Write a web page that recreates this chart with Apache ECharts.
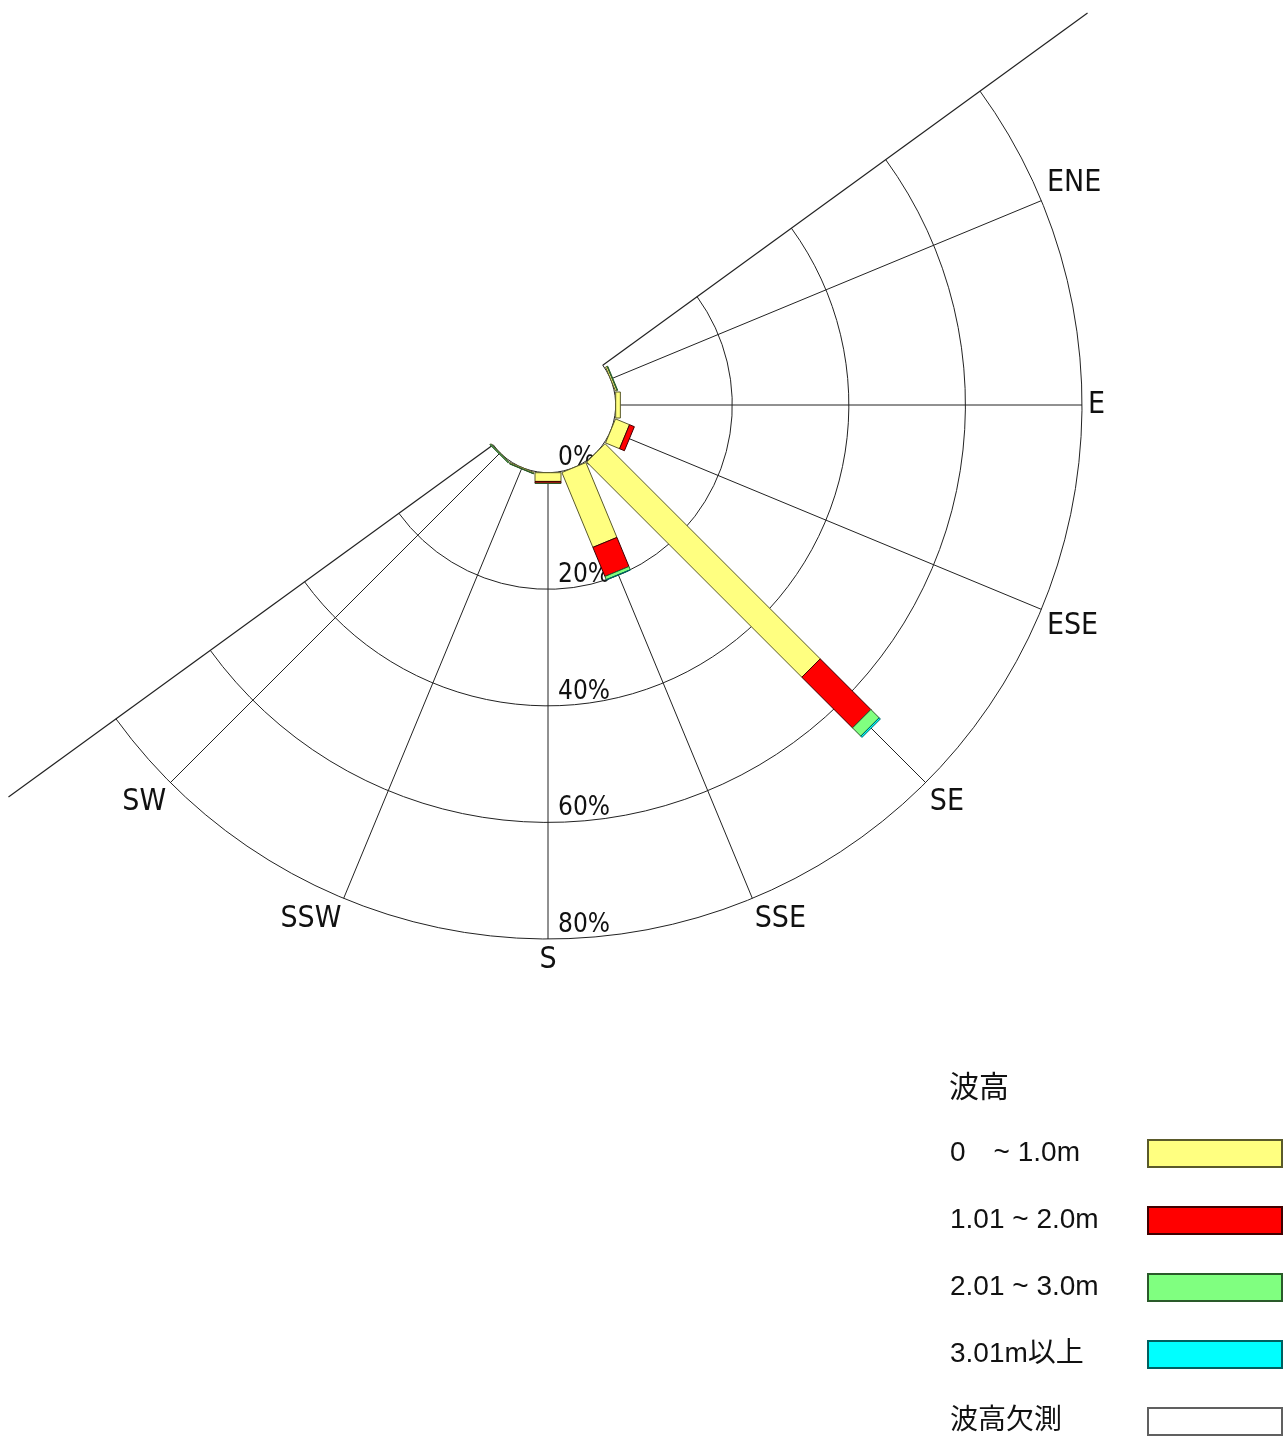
<!DOCTYPE html>
<html><head><meta charset="utf-8">
<script src="https://cdn.jsdelivr.net/npm/echarts@6/dist/echarts.min.js"></script>
<style>html,body{margin:0;padding:0;background:#fff}#c{width:1285px;height:1439px}</style>
</head><body><div id="c"></div>
<script>
// ---- data ----
const directions = ['ENE', 'E', 'ESE', 'SE', 'SSE', 'S', 'SSW', 'SW'];
const bearings = [67.5, 90, 112.5, 135, 157.5, 180, 202.5, 225];
const classNames = ['0\u3000~ 1.0m', '1.01 ~ 2.0m', '2.01 ~ 3.0m', '3.01m以上', '波高欠測'];
const wave0to1 = [0.3, 0.8, 2.6, 52.2, 13.9, 1.5, 0.2, 0.1];
const wave1to2 = [0.0, 0.0, 0.9, 12.3, 5.4, 0.3, 0.0, 0.0];
const wave2to3 = [0.1, 0.0, 0.0, 2.0, 0.6, 0.05, 0.05, 0.15];
const wave3up  = [0.0, 0.0, 0.0, 0.3, 0.05, 0.0, 0.0, 0.0];
const waveMissing = [0, 0, 0, 0, 0, 0, 0, 0];
const radiusTicks = [0, 20, 40, 60, 80];
const coastBearings = [54, 234];
const coastExtent = 102.8;

// ---- styling ----
const classValues = [wave0to1, wave1to2, wave2to3, wave3up, waveMissing];
const fills = ['#FFFF80', '#FF0000', '#80FF80', '#00FFFF', '#FFFFFF'];
const borders = ['#5a5a2a', '#400000', '#2a5a2a', '#006060', '#606060'];
const BAR_HALF = 13;
const CHART_FONT = "'DejaVu Sans Condensed', 'Liberation Sans Narrow', 'Liberation Sans', sans-serif";
const LEG_FONT = "'Liberation Sans', Arial, 'Noto Sans CJK JP', sans-serif";

const chart = echarts.init(document.getElementById('c'), null, {renderer: 'canvas'});

function barRender(params, api) {
  const b = api.value(0), s = api.value(1), e = api.value(2);
  if (!(e - s > 0)) return null;
  const p1 = api.coord([s, b]), p2 = api.coord([e, b]);
  const c0 = api.coord([0, b]), c1 = api.coord([80, b]);
  let dx = c1[0] - c0[0], dy = c1[1] - c0[1];
  const L = Math.hypot(dx, dy); dx /= L; dy /= L;
  const nx = -dy * BAR_HALF, ny = dx * BAR_HALF;
  return {
    type: 'polygon',
    shape: {points: [[p1[0] + nx, p1[1] + ny], [p2[0] + nx, p2[1] + ny], [p2[0] - nx, p2[1] - ny], [p1[0] - nx, p1[1] - ny]]},
    style: api.style({lineWidth: 1})
  };
}

const series = classNames.map((name, i) => ({
  name: name,
  type: 'custom',
  coordinateSystem: 'polar',
  polarIndex: 0,
  itemStyle: {color: fills[i], borderColor: borders[i], borderWidth: 1},
  encode: {angle: 0, radius: [1, 2]},
  renderItem: barRender,
  z: 5,
  data: directions.map((d, j) => {
    let start = 0;
    for (let k = 0; k < i; k++) start += classValues[k][j];
    return [bearings[j], start, start + classValues[i][j]];
  })
}));

series.push({
  name: 'coast',
  type: 'custom',
  coordinateSystem: 'polar',
  polarIndex: 0,
  silent: true,
  z: 4,
  encode: {angle: 0, radius: 1},
  data: coastBearings.map(b => [b, coastExtent]),
  renderItem: function (params, api) {
    const b = api.value(0);
    const a = api.coord([0, b]), z = api.coord([api.value(1), b]);
    return {type: 'line', shape: {x1: a[0], y1: a[1], x2: z[0], y2: z[1]},
      style: {stroke: '#222', lineWidth: 1.2}};
  }
});

const option = {
  backgroundColor: '#fff',
  animation: false,
  title: {
    text: '波高', left: 949, top: 1074, padding: 0,
    textStyle: {fontFamily: LEG_FONT, fontSize: 30, fontWeight: 'normal', color: '#111'}
  },
  legend: {
    data: classNames,
    orient: 'vertical',
    left: 950, top: 1139, padding: 0,
    align: 'right',
    itemWidth: 134, itemHeight: 27, itemGap: 38,
    selectedMode: false,
    icon: 'rect',
    formatter: '{t|{name}}',
    textStyle: {
      fontFamily: LEG_FONT, fontSize: 28, color: '#111',
      rich: {t: {width: 193, align: 'left', fontFamily: LEG_FONT, fontSize: 28, lineHeight: 27, color: '#111'}}
    }
  },
  polar: [
    {center: [548, 405], radius: [67.7, 534]},
    {center: [548, 405], radius: [67.7, 534]}
  ],
  angleAxis: [
    {
      polarIndex: 0, type: 'value', min: 54, max: 234,
      startAngle: 36, endAngle: -144, clockwise: true,
      axisLine: {show: false},
      axisTick: {show: false, customValues: bearings},
      splitLine: {show: true, lineStyle: {color: '#222', width: 1}},
      axisLabel: {
        show: true, customValues: bearings, margin: 6,
        fontFamily: CHART_FONT, fontSize: 30, color: '#111',
        formatter: v => directions[bearings.indexOf(v)] || ''
      }
    },
    {
      polarIndex: 1, type: 'value', min: 0, max: 360, startAngle: -90, clockwise: true,
      show: false
    }
  ],
  radiusAxis: [
    {
      polarIndex: 0, type: 'value', min: 0, max: 80, interval: 20,
      axisLine: {show: false}, axisTick: {show: false}, axisLabel: {show: false},
      splitLine: {show: true, lineStyle: {color: '#222', width: 1}}
    },
    {
      polarIndex: 1, type: 'value', min: 0, max: 80, interval: 20,
      axisLine: {show: false}, axisTick: {show: false}, splitLine: {show: false},
      axisLabel: {
        show: true, margin: 10, align: 'left', verticalAlign: 'bottom',
        fontFamily: CHART_FONT, fontSize: 26, color: '#111', lineHeight: 28,
        formatter: v => radiusTicks.includes(v) ? v + '%' : ''
      }
    }
  ],
  series: series
};
chart.setOption(option);
</script>
</body></html>
